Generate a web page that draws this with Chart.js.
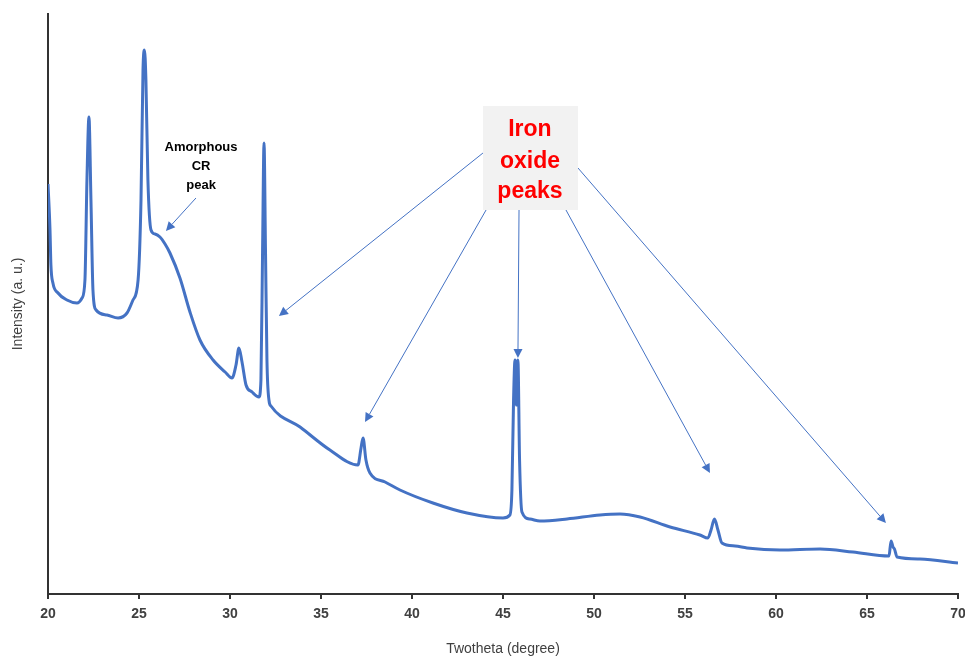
<!DOCTYPE html>
<html>
<head>
<meta charset="utf-8">
<title>XRD pattern</title>
<script src="https://cdn.jsdelivr.net/npm/chart.js@4.4.1/dist/chart.umd.min.js"></script>
<style>
  html, body { margin: 0; padding: 0; background: #fff; }
  #xrd { display: block; }
</style>
</head>
<body>
<canvas id="xrd" width="965" height="656"></canvas>
<script>
// 2theta (degree)
const twoTheta = [
    20.00, 20.11, 20.16, 20.27, 20.55, 21.04, 21.59, 21.87, 22.03, 22.14,
    22.25, 22.36, 22.47, 22.64, 23.24, 23.85, 24.34, 24.67, 24.95, 25.11,
    25.22, 25.30, 25.38, 25.49, 25.66, 25.88, 26.15, 26.43, 26.70, 27.25,
    27.80, 28.35, 29.07, 29.73, 30.11, 30.33, 30.49, 30.66, 30.88, 31.21,
    31.59, 31.70, 31.79, 31.87, 31.95, 32.03, 32.14, 32.25, 33.85, 35.49,
    37.03, 37.20, 37.31, 37.47, 37.69, 38.52, 39.34, 41.15, 43.02, 45.00,
    45.38, 45.49, 45.58, 45.66, 45.74, 45.82, 45.91, 46.04, 46.48, 47.03,
    48.52, 50.33, 51.43, 52.53, 54.18, 55.82, 56.26, 56.43, 56.62, 56.81,
    57.03, 57.75, 58.41, 60.22, 62.42, 64.23, 66.21, 66.32, 66.43, 66.51,
    66.65, 67.91, 70.00
];
// intensity (a. u.)
const intensity = [
    410, 364, 329, 311, 301, 294, 291, 296, 314, 414,
    477, 394, 304, 284, 279, 276, 281, 294, 314, 394,
    524, 544, 514, 414, 364, 360, 357, 350, 341, 316,
    282, 254, 234, 222, 216, 229, 246, 232, 209, 202,
    197, 214, 344, 451, 344, 234, 194, 188, 167, 144,
    129, 146, 156, 134, 121, 112, 104, 91, 81, 76,
    79, 104, 194, 234, 189, 234, 134, 82, 75, 73,
    75, 79, 80, 77, 67, 59, 56, 64, 75, 64,
    51, 48, 46, 44, 45, 42, 38, 53, 47, 45,
    37, 35, 31
];
const xTicks = [20, 25, 30, 35, 40, 45, 50, 55, 60, 65, 70];

// callout texts and where the arrows point (data coordinates)
const amorphousLines = ['Amorphous', 'CR', 'peak'];
const ironLines = ['Iron', 'oxide', 'peaks'];
const amorphousArrow = { from: [28.13, 396], to: [26.48, 363] };
const ironArrows = [
    { from: [43.90, 441], to: [32.69, 278] },
    { from: [44.07, 384], to: [37.42, 172] },
    { from: [45.88, 384], to: [45.82, 236] },
    { from: [48.46, 384], to: [56.37, 121] },
    { from: [49.12, 426], to: [66.04, 71] }
];

const lineBlue = '#4472c4';

function drawArrow(ctx, x1, y1, x2, y2) {
    const ang = Math.atan2(y2 - y1, x2 - x1);
    const len = 9, half = 4.5;
    const bx = x2 - len * Math.cos(ang), by = y2 - len * Math.sin(ang);
    ctx.beginPath();
    ctx.moveTo(x1, y1);
    ctx.lineTo(bx, by);
    ctx.stroke();
    ctx.beginPath();
    ctx.moveTo(x2, y2);
    ctx.lineTo(bx + half * Math.sin(ang), by - half * Math.cos(ang));
    ctx.lineTo(bx - half * Math.sin(ang), by + half * Math.cos(ang));
    ctx.closePath();
    ctx.fill();
}

// callouts: drawn after the line, positioned through the scales
const calloutPlugin = {
    id: 'callouts',
    afterDatasetsDraw(chart) {
        const { ctx, scales: { x, y } } = chart;
        const px = v => x.getPixelForValue(v);
        const py = v => y.getPixelForValue(v);
        ctx.save();
        ctx.strokeStyle = lineBlue;
        ctx.fillStyle = lineBlue;
        ctx.lineWidth = 1;

        drawArrow(ctx, px(amorphousArrow.from[0]), py(amorphousArrow.from[1]),
            px(amorphousArrow.to[0]), py(amorphousArrow.to[1]));
        ironArrows.forEach(a => {
            drawArrow(ctx, px(a.from[0]), py(a.from[1]), px(a.to[0]), py(a.to[1]));
        });

        // grey box behind "Iron oxide peaks"
        const bl = px(43.90), br = px(49.12), bt = py(488), bb = py(384);
        ctx.fillStyle = '#f2f2f2';
        ctx.fillRect(bl, bt, br - bl, bb - bt);

        ctx.textAlign = 'center';
        ctx.textBaseline = 'middle';
        ctx.fillStyle = '#ff0000';
        ctx.font = 'bold 23px "Liberation Sans", Arial, sans-serif';
        const ironY = [464, 432, 402];
        ironLines.forEach((t, i) => ctx.fillText(t, px(46.48), py(ironY[i])));

        ctx.fillStyle = '#000';
        ctx.font = 'bold 13px "Liberation Sans", Arial, sans-serif';
        const amY = [447, 428, 409];
        amorphousLines.forEach((t, i) => ctx.fillText(t, px(28.41), py(amY[i])));
        ctx.restore();
    }
};

const axisColor = '#333333';
const textColor = '#404040';

new Chart(document.getElementById('xrd'), {
    type: 'line',
    data: {
        datasets: [{
            label: 'XRD',
            data: twoTheta.map((t, i) => ({ x: t, y: intensity[i] })),
            borderColor: lineBlue,
            borderWidth: 3,
            pointRadius: 0,
            fill: false,
            cubicInterpolationMode: 'monotone'
        }]
    },
    options: {
        responsive: false,
        animation: false,
        devicePixelRatio: 1,
        layout: { padding: { top: 14, right: 7, left: 0, bottom: 0 } },
        plugins: {
            legend: { display: false },
            tooltip: { enabled: false }
        },
        scales: {
            x: {
                type: 'linear',
                min: 20,
                max: 70,
                afterBuildTicks: s => { s.ticks = xTicks.map(v => ({ value: v })); },
                afterFit: s => { s.height = 62; s.paddingLeft = 0; s.paddingRight = 0; },
                border: { display: true, color: axisColor, width: 2 },
                grid: {
                    drawOnChartArea: false,
                    drawTicks: true,
                    tickLength: 5,
                    color: axisColor,
                    lineWidth: 2
                },
                ticks: {
                    color: textColor,
                    padding: 7,
                    maxRotation: 0,
                    font: { family: '"Liberation Sans", Arial, sans-serif', size: 14, weight: 'bold' }
                },
                title: {
                    display: true,
                    text: 'Twotheta (degree)',
                    color: textColor,
                    padding: { top: 0, bottom: -2 },
                    font: { family: '"Liberation Sans", Arial, sans-serif', size: 14 }
                }
            },
            y: {
                min: 0,
                max: 580,
                afterFit: s => { s.width = 48; },
                border: { display: true, color: axisColor, width: 2 },
                grid: { display: false },
                ticks: { display: false },
                title: {
                    display: true,
                    text: 'Intensity (a. u.)',
                    color: textColor,
                    padding: { top: 10, bottom: 0 },
                    font: { family: '"Liberation Sans", Arial, sans-serif', size: 14 }
                }
            }
        }
    },
    plugins: [calloutPlugin]
});
</script>
</body>
</html>
